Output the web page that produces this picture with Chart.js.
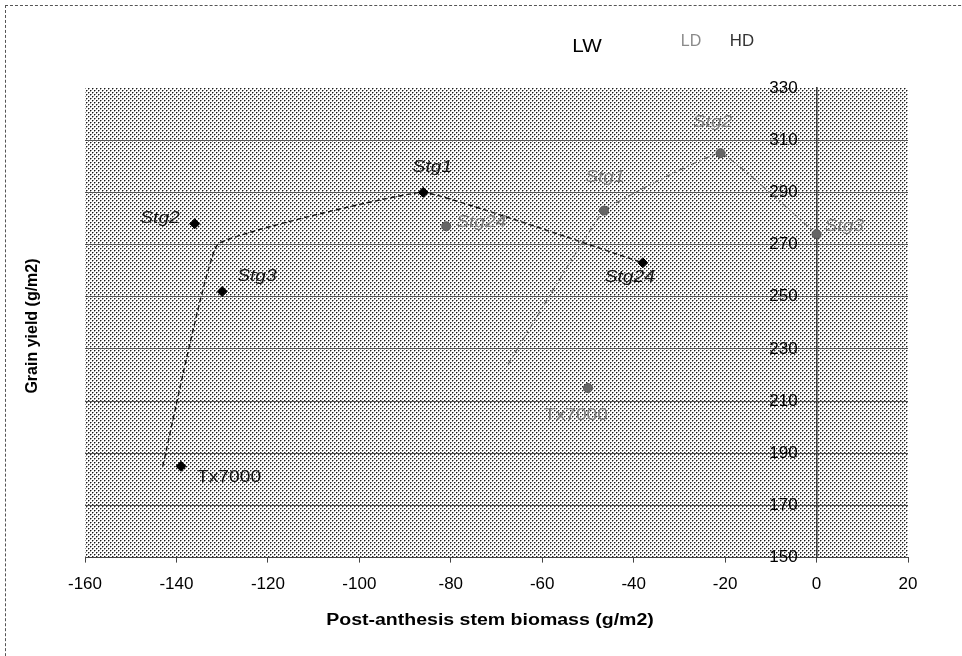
<!DOCTYPE html>
<html><head><meta charset="utf-8">
<script src="https://cdn.jsdelivr.net/npm/chart.js@4.4.1/dist/chart.umd.min.js"></script>
<style>
html,body{margin:0;padding:0;background:#fff;overflow:hidden;}
#wrap{position:relative;width:962px;height:656px;overflow:hidden;}
#frame{position:absolute;left:5px;top:5px;width:1000px;height:700px;border-left:1px dashed #555;border-top:1px dashed #555;}
canvas{position:absolute;left:0;top:0;}
</style></head><body>
<div id="wrap"><div id="frame"></div><canvas id="c" width="962" height="656"></canvas></div>
<script>
// ---- data ----
const seriesNames = ['LW', 'LD', 'HD'];
const categories = ['Tx7000', 'Stg1', 'Stg2', 'Stg3', 'Stg24'];
const lwX = [-139, -86, -136, -130, -38];
const lwY = [185, 290, 278, 252, 263];
const ldX = [-50, -46.5, -21, 0, -81];
const ldY = [215, 283, 305, 274, 277];
const hdX = [];
const hdY = [];
const lwTrendX = [-143, -131, -86, -38];
const lwTrendY = [185, 270, 290, 263];
const ldTrendX = [-67.5, -46.5, -21, 0];
const ldTrendY = [224, 283, 305, 274];
const xTicks = [-160, -140, -120, -100, -80, -60, -40, -20, 0, 20];
const yTicks = [150, 170, 190, 210, 230, 250, 270, 290, 310, 330];
const xTitle = 'Post-anthesis stem biomass (g/m2)';
const yTitle = 'Grain yield (g/m2)';

// ---- label placement (layout, not data) ----
const lwLabelPos = [
  {dx: 16, dy: 11, align: 'left'},
  {dx: 9, dy: -25, align: 'center'},
  {dx: -15, dy: -5, align: 'right'},
  {dx: 15, dy: -15, align: 'left'},
  {dx: -13, dy: 15, align: 'center'}
];
const ldLabelPos = [
  {dx: -12, dy: 28, align: 'center'},
  {dx: 1, dy: -33, align: 'center'},
  {dx: -8, dy: -31, align: 'center'},
  {dx: 8, dy: -8, align: 'left'},
  {dx: 10, dy: -4, align: 'left'}
];

const zip = (xs, ys) => xs.map((x, i) => ({x: x, y: ys[i]}));
const FONT = '"Liberation Sans", Arial, sans-serif';
const SX = 1.2;

function makePattern() {
  const c = document.createElement('canvas');
  c.width = 4; c.height = 4;
  const g = c.getContext('2d');
  g.fillStyle = '#ffffff'; g.fillRect(0, 0, 4, 4);
  g.fillStyle = '#1a1a1a';
  g.fillRect(0, 0, 1, 1); g.fillRect(2, 2, 1, 1);
  g.fillStyle = '#9a9a9a';
  g.fillRect(1, 0, 1, 1); g.fillRect(3, 2, 1, 1);
  g.fillRect(0, 1, 1, 1); g.fillRect(2, 3, 1, 1);
  return g.createPattern(c, 'repeat');
}

function stretchedText(ctx, text, x, y, font, color, align, sx) {
  ctx.save();
  ctx.font = font;
  ctx.fillStyle = color;
  ctx.textAlign = align;
  ctx.textBaseline = 'middle';
  ctx.translate(x, y);
  ctx.scale(sx, 1);
  ctx.fillText(text, 0, 0);
  ctx.restore();
}

const bgPlugin = {
  id: 'bgPattern',
  beforeDraw(chart) {
    const {ctx, chartArea: a} = chart;
    ctx.save();
    ctx.fillStyle = makePattern();
    ctx.fillRect(a.left, a.top, a.right - a.left, a.bottom - a.top);
    ctx.restore();
  }
};

const labelPlugin = {
  id: 'pointLabels',
  afterDatasetsDraw(chart) {
    const ctx = chart.ctx;
    chart.data.datasets.forEach((ds, di) => {
      if (!ds.pointNames) return;
      const meta = chart.getDatasetMeta(di);
      meta.data.forEach((el, i) => {
        const name = ds.pointNames[i];
        const p = ds.labelPos[i];
        const italic = name.indexOf('Stg') === 0 ? 'italic ' : '';
        stretchedText(ctx, name, el.x + p.dx, el.y + p.dy, italic + '16px ' + FONT, ds.labelColor, p.align, SX);
      });
    });
  }
};

const titlePlugin = {
  id: 'axisTitles',
  afterDraw(chart) {
    const ctx = chart.ctx;
    stretchedText(ctx, xTitle, 490, 621, 'bold 16px ' + FONT, '#000', 'center', 1.22);
    ctx.save();
    ctx.translate(33, 326);
    ctx.rotate(-Math.PI / 2);
    ctx.font = 'bold 16px ' + FONT;
    ctx.fillStyle = '#000';
    ctx.textAlign = 'center';
    ctx.textBaseline = 'middle';
    ctx.fillText(yTitle, 0, 0);
    ctx.restore();
    // legend text (series names)
    const legendSpec = [
      {x: 587, y: 47, font: '18px ' + FONT, color: '#000', sx: 1.15},
      {x: 691, y: 42, font: '16px ' + FONT, color: '#8a8a8a', sx: 1.0},
      {x: 742, y: 42, font: '16px ' + FONT, color: '#333', sx: 1.05}
    ];
    seriesNames.forEach((n, i) => {
      const s = legendSpec[i];
      stretchedText(ctx, n, s.x, s.y, s.font, s.color, 'center', s.sx);
    });
  }
};

new Chart(document.getElementById('c'), {
  type: 'scatter',
  data: {
    datasets: [
      {
        label: 'LW trend', data: zip(lwTrendX, lwTrendY), showLine: true, tension: 0.08,
        borderColor: '#111', borderWidth: 1.4, borderDash: [5, 3], pointRadius: 0, order: 3
      },
      {
        label: 'LD trend', data: zip(ldTrendX, ldTrendY), showLine: true, tension: 0.08,
        borderColor: '#6a6a6a', borderWidth: 1.2, borderDash: [6, 3, 2, 3], pointRadius: 0, order: 3
      },
      {
        label: seriesNames[0], data: zip(lwX, lwY), pointStyle: 'rectRot', pointRadius: 5,
        backgroundColor: '#000', borderColor: '#000', borderWidth: 1, order: 1,
        pointNames: categories, labelPos: lwLabelPos, labelColor: '#111'
      },
      {
        label: seriesNames[1], data: zip(ldX, ldY), pointStyle: 'circle', pointRadius: 4.5,
        backgroundColor: '#666', borderColor: '#555', borderWidth: 1, order: 2,
        pointNames: categories, labelPos: ldLabelPos, labelColor: '#7c7c7c'
      },
      {
        label: seriesNames[2], data: zip(hdX, hdY), pointStyle: 'circle', pointRadius: 4.5,
        backgroundColor: '#999', borderColor: '#999', order: 2
      }
    ]
  },
  options: {
    responsive: false,
    animation: false,
    events: [],
    layout: {padding: {left: 85, right: 54, top: 88, bottom: 49}},
    plugins: {legend: {display: false}, tooltip: {enabled: false}, title: {display: false}},
    scales: {
      x: {
        type: 'linear', min: -160, max: 20,
        afterBuildTicks: s => { s.ticks = xTicks.map(v => ({value: v})); },
        ticks: {color: '#000', font: {family: FONT, size: 17}, padding: 12, maxRotation: 0},
        grid: {drawOnChartArea: false, drawTicks: true, tickLength: 5, color: '#444'},
        border: {display: true, color: '#444', width: 1}
      },
      y: {
        type: 'linear', min: 150, max: 330, position: {x: 0},
        afterBuildTicks: s => { s.ticks = yTicks.map(v => ({value: v})); },
        ticks: {color: '#000', font: {family: FONT, size: 17}, padding: 12,
          callback: v => v + '    '},
        grid: {
          drawTicks: true, tickLength: 5, lineWidth: 1,
          color: c => (c.tick && (c.tick.value === 330 || c.tick.value === 150)) ? 'rgba(0,0,0,0)' : '#555'
        },
        border: {display: true, color: '#3a3a3a', width: 1.6, dash: []}
      }
    }
  },
  plugins: [bgPlugin, labelPlugin, titlePlugin]
});
</script>
</body></html>
